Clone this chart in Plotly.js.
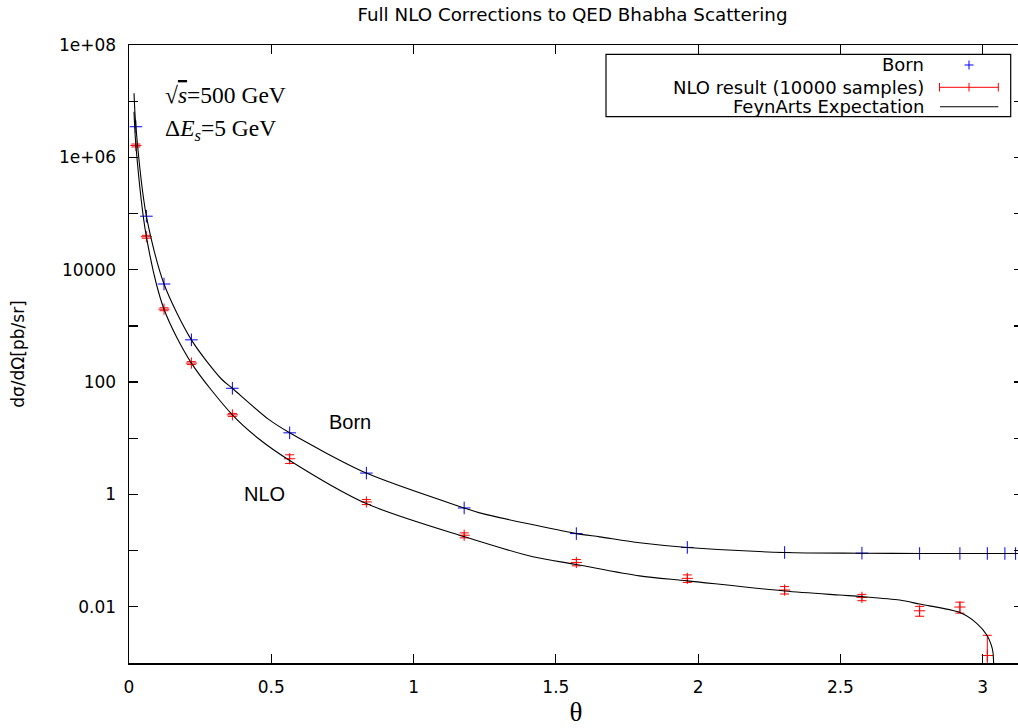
<!DOCTYPE html>
<html>
<head>
<meta charset="utf-8">
<script src="https://cdn.plot.ly/plotly-3.0.1.min.js"></script>
<style>
html, body { margin: 0; padding: 0; overflow: hidden; background: #fff; }
#chart { width: 1024px; height: 728px; }
</style>
</head>
<body>
<div id="chart"></div>
<script>
// ---- data ----
const theta = [0.0242, 0.0611, 0.1230, 0.2193, 0.3633, 0.5646, 0.8341, 1.1778, 1.5720, 1.9620, 2.3039, 2.5756, 2.7783, 2.9199, 3.0162, 3.0780, 3.1156];
const born  = [3.51e6, 8.97e4, 5570, 565, 77.6, 12.5, 2.40, 0.575, 0.201, 0.114, 0.0927, 0.0901, 0.0889, 0.0889, 0.0889, 0.0889, 0.0889];

const nloTheta = [0.0242, 0.0611, 0.1230, 0.2193, 0.3633, 0.5646, 0.8341, 1.1778, 1.5720, 1.9620, 2.3039, 2.5756, 2.7783, 2.9199, 3.0162];
const nlo      = [1.63e6, 3.87e4, 1983, 218, 26.1, 4.32, 0.736, 0.188, 0.0616, 0.0321, 0.0199, 0.01475, 0.00849, 0.00991, 0.00136];
const nloErr   = [9.8e4, 2300, 120, 13, 1.6, 0.76, 0.075, 0.019, 0.008, 0.0049, 0.0030, 0.0019, 0.0017, 0.0022, 0.00175];

const bornCurveTheta = [0.0176, 0.0242, 0.0611, 0.1230, 0.2193, 0.3247, 0.3633, 0.4884, 0.5646, 0.8341, 1.1778, 1.2323, 1.5720, 1.654, 1.794, 1.962, 2.304, 2.5756, 2.778, 3.1416];
const bornCurve      = [1.39e7, 3.51e6, 8.97e4, 5570, 565, 113.5, 77.6, 22.1, 12.5, 2.40, 0.575, 0.470, 0.201, 0.176, 0.138, 0.114, 0.0927, 0.0901, 0.0889, 0.0889];

const nloCurveTheta = [0.0176, 0.0242, 0.0611, 0.1230, 0.2193, 0.3633, 0.4592, 0.5646, 0.8341, 1.1796, 1.4195, 1.5720, 1.794, 1.962, 2.304, 2.497, 2.5756, 2.708, 2.778, 2.920, 2.979, 3.015, 3.030, 3.036, 3.039];
const nloCurve      = [6.47e6, 1.63e6, 3.87e4, 1983, 218, 26.1, 9.50, 4.03, 0.687, 0.176, 0.0778, 0.0568, 0.0355, 0.0290, 0.0191, 0.0162, 0.0152, 0.0132, 0.0112, 0.00789, 0.00509, 0.00312, 0.00210, 0.00156, 0.0008];

const yTickVals = [1e-2, 1, 100, 1e4, 1e6, 1e8];
const yTickText = ['0.01', '1', '100', '10000', '1e+06', '1e+08'];
const yMinorVals = [1e-3, 1e-1, 10, 1e3, 1e5, 1e7];
const xTickVals = [0, 0.5, 1, 1.5, 2, 2.5, 3];
const xTickText = ['0', '0.5', '1', '1.5', '2', '2.5', '3'];

const legendLabels = ['Born', 'NLO result (10000 samples)', 'FeynArts Expectation'];

// ---- layout helpers (pixel -> paper) ----
const L = 129, R = 1023, T = 45, B = 663;
const px = p => (p - L) / (R - L);
const py = p => (B - p) / (B - T);

const FONT = 'DejaVu Sans, Liberation Sans, Arial, sans-serif';

const traces = [
  {
    x: theta, y: born, type: 'scatter', mode: 'markers', name: legendLabels[0],
    marker: { symbol: 'cross-thin-open', size: 9, color: '#0000ff', line: { width: 1, color: '#0000ff' } },
    showlegend: false
  },
  {
    x: nloTheta, y: nlo, type: 'scatter', mode: 'markers', name: legendLabels[1],
    marker: { symbol: 'cross-thin-open', size: 8, color: '#ff0000', line: { width: 1, color: '#ff0000' } },
    error_y: { type: 'data', array: nloErr, visible: true, color: '#ff0000', thickness: 1, width: 4.5 },
    showlegend: false
  },
  {
    x: bornCurveTheta, y: bornCurve, type: 'scatter', mode: 'lines', name: legendLabels[2],
    line: { color: '#000', width: 1.1, shape: 'spline', smoothing: 0.8 }, showlegend: false
  },
  {
    x: nloCurveTheta, y: nloCurve, type: 'scatter', mode: 'lines', name: legendLabels[2],
    line: { color: '#000', width: 1.1, shape: 'spline', smoothing: 0.8 }, showlegend: false
  }
];

const shapes = [
  // legend box
  { type: 'rect', xref: 'paper', yref: 'paper', x0: px(606), x1: px(1010.7), y0: py(54.3), y1: py(116.7),
    line: { color: '#000', width: 1.2 }, fillcolor: 'rgba(255,255,255,1)', layer: 'above' },
  // Born key (plus)
  { type: 'line', xref: 'paper', yref: 'paper', x0: px(964.5), x1: px(973.5), y0: py(65), y1: py(65), line: { color: '#0000ff', width: 1 } },
  { type: 'line', xref: 'paper', yref: 'paper', x0: px(969), x1: px(969), y0: py(60.5), y1: py(69.5), line: { color: '#0000ff', width: 1 } },
  // NLO key (error bar)
  { type: 'line', xref: 'paper', yref: 'paper', x0: px(939.5), x1: px(998.3), y0: py(87.3), y1: py(87.3), line: { color: '#ff0000', width: 1 } },
  { type: 'line', xref: 'paper', yref: 'paper', x0: px(939.5), x1: px(939.5), y0: py(83), y1: py(91.5), line: { color: '#ff0000', width: 1 } },
  { type: 'line', xref: 'paper', yref: 'paper', x0: px(998.3), x1: px(998.3), y0: py(83), y1: py(91.5), line: { color: '#ff0000', width: 1 } },
  { type: 'line', xref: 'paper', yref: 'paper', x0: px(969), x1: px(969), y0: py(83), y1: py(91.5), line: { color: '#ff0000', width: 1 } },
  // FeynArts key (line)
  { type: 'line', xref: 'paper', yref: 'paper', x0: px(940), x1: px(998.3), y0: py(106.7), y1: py(106.7), line: { color: '#000', width: 1.1 } }
];

const legendRows = [65, 87.3, 106.7];
const annotations = legendLabels.map((t, i) => ({
  xref: 'paper', yref: 'paper', x: px(926), y: py(legendRows[i]), xanchor: 'right', yanchor: 'middle',
  text: t, showarrow: false, font: { family: FONT, size: 18, color: '#000' }
}));

annotations.push(
  { xref: 'paper', yref: 'paper', x: px(163), y: py(95), xanchor: 'left', yanchor: 'middle', showarrow: false,
    text: '√<span style="text-decoration:overline"><i>s</i></span>=500 GeV',
    font: { family: 'Liberation Serif, DejaVu Serif, serif', size: 23.5, color: '#000' } },
  { xref: 'paper', yref: 'paper', x: px(163), y: py(130), xanchor: 'left', yanchor: 'middle', showarrow: false,
    text: 'Δ<i>E</i><sub><i>s</i></sub>=5 GeV',
    font: { family: 'Liberation Serif, DejaVu Serif, serif', size: 23.5, color: '#000' } },
  { xref: 'paper', yref: 'paper', x: px(350), y: py(422), xanchor: 'center', yanchor: 'middle', showarrow: false,
    text: 'Born', font: { family: 'Liberation Sans, Arial, sans-serif', size: 20, color: '#000' } },
  { xref: 'paper', yref: 'paper', x: px(264), y: py(494.5), xanchor: 'center', yanchor: 'middle', showarrow: false,
    text: 'NLO', font: { family: 'Liberation Sans, Arial, sans-serif', size: 20, color: '#000' } }
);

const layout = {
  width: 1024, height: 728,
  margin: { l: L, r: 1024 - R, t: T, b: 728 - B, pad: 0 },
  paper_bgcolor: '#fff', plot_bgcolor: '#fff',
  showlegend: false,
  title: {
    text: 'Full NLO Corrections to QED Bhabha Scattering',
    font: { family: FONT, size: 18.3, color: '#000' },
    xref: 'container', x: 572.5 / 1024, xanchor: 'center',
    yref: 'container', y: 1 - 15 / 728, yanchor: 'middle'
  },
  xaxis: {
    range: [0, 3.1416], tickvals: xTickVals, ticktext: xTickText,
    ticks: 'inside', ticklen: 9, tickwidth: 1.2, tickcolor: '#000',
    showline: true, linecolor: '#000', linewidth: 1.5, mirror: 'ticks',
    showgrid: false, zeroline: false,
    tickfont: { family: FONT, size: 17, color: '#000' }, ticklabelstandoff: 8,
    title: { text: 'θ', font: { family: 'Liberation Serif, DejaVu Serif, serif', size: 27, color: '#000' }, standoff: 6 },
    automargin: false
  },
  yaxis: {
    type: 'log', range: [-3, 8], tickvals: yTickVals, ticktext: yTickText,
    ticks: 'inside', ticklen: 9, tickwidth: 1.2, tickcolor: '#000',
    minor: { tickvals: yMinorVals, ticks: 'inside', ticklen: 9, tickwidth: 1.2, tickcolor: '#000', showgrid: false },
    showline: true, linecolor: '#000', linewidth: 1.5, mirror: 'ticks',
    showgrid: false, zeroline: false,
    tickfont: { family: FONT, size: 17, color: '#000' }, ticklabelstandoff: 8,
    title: { text: 'dσ/dΩ[pb/sr]', font: { family: FONT, size: 17, color: '#000' }, standoff: 30 },
    automargin: false
  },
  shapes: shapes,
  annotations: annotations
};

Plotly.newPlot('chart', traces, layout, { displayModeBar: false, responsive: false, staticPlot: true });
</script>
</body>
</html>
